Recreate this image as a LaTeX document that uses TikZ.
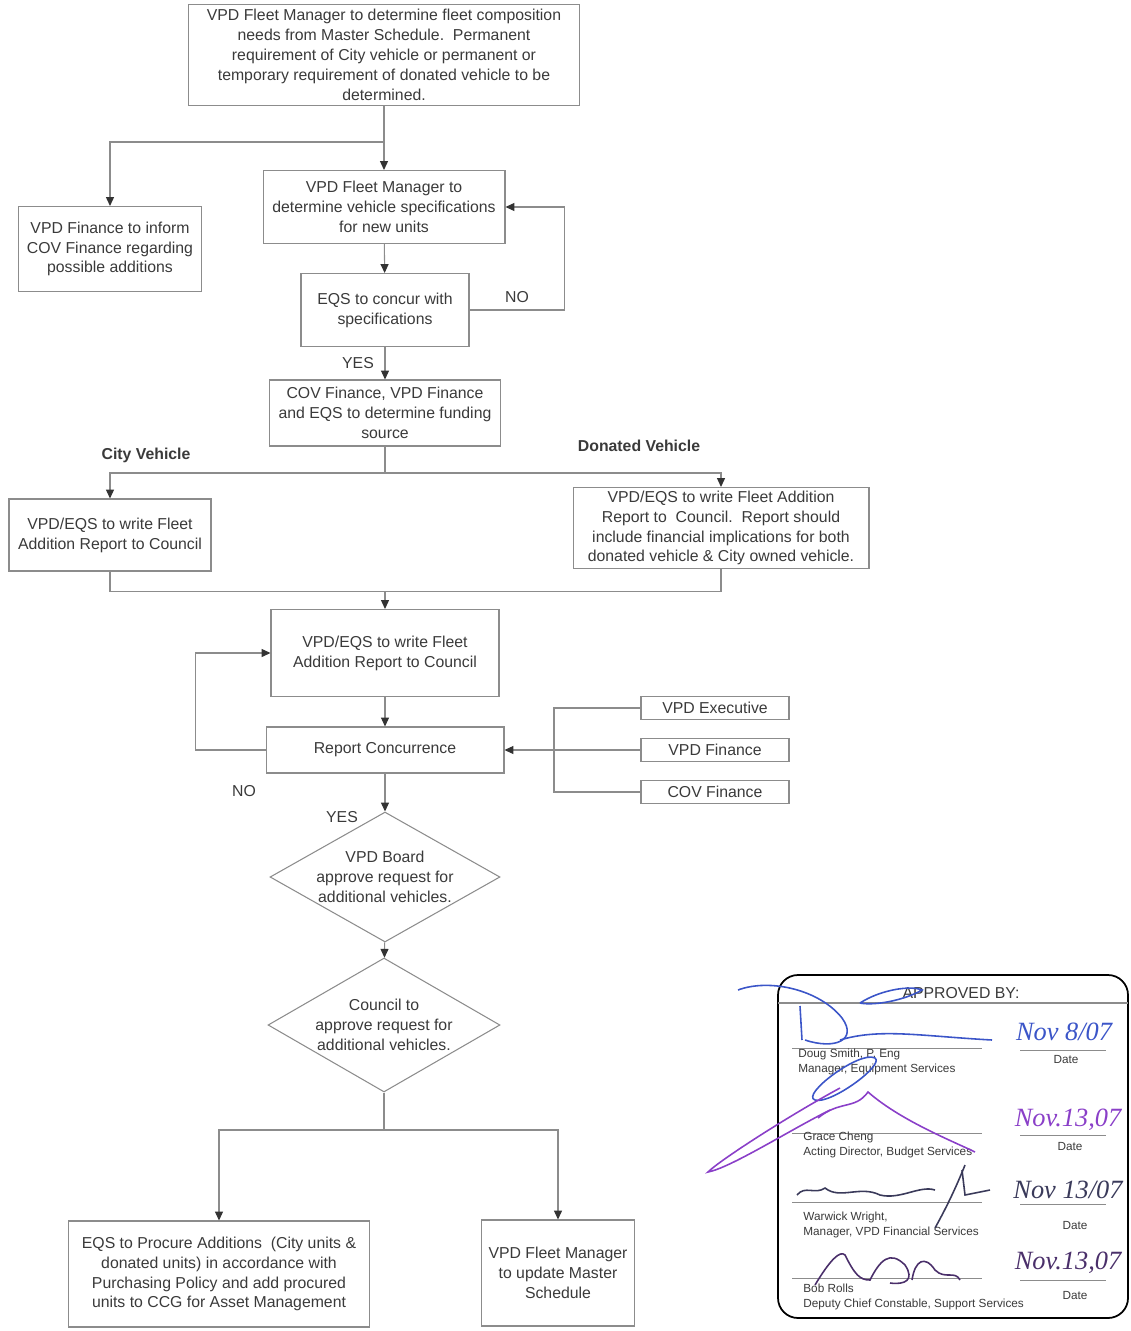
\documentclass[tikz,border=0pt]{standalone}
\usepackage{fontspec}
\setmainfont{Liberation Sans}
\newfontfamily\handfont{Liberation Serif}
\usepackage{tikz}
\usetikzlibrary{arrows.meta,positioning,shapes.geometric}
\definecolor{linegray}{HTML}{8C8C8C}
\definecolor{textgray}{HTML}{3A3A3A}
\definecolor{tipgray}{HTML}{333333}
\definecolor{sigblue}{HTML}{3B55C8}
\definecolor{sigpurple}{HTML}{8A3FC8}
\definecolor{sigdark}{HTML}{3A3A5A}
\definecolor{sigplum}{HTML}{4A2F6A}

\begin{document}
\begin{tikzpicture}[x=0.02cm,y=-0.02cm,->,>={Triangle[length=5pt,width=4.5pt,color=tipgray]},draw=linegray,semithick]
  \tikzstyle{procbox}=[draw=linegray,text=textgray,align=center,inner sep=0pt,font=\fontsize{9}{11.3}\selectfont]
  \tikzstyle{decision}=[diamond,draw=linegray,inner sep=0pt]
  \tikzstyle{lbl}=[text=textgray,font=\fontsize{9}{11}\selectfont]
  \tikzstyle{branch}=[text=textgray,font=\fontsize{9}{11}\bfseries]
  \tikzstyle{signame}=[anchor=west,text=textgray,align=left,font=\fontsize{6.7}{8.5}\selectfont]
  \tikzstyle{handdate}=[font=\handfont\itshape\fontsize{15}{15}\selectfont]
  \useasboundingbox (0,0) rectangle (1130,1331);

  % main column
  \node[procbox,minimum width=7.82cm,minimum height=2.02cm] (needs) at (384,55)
    {VPD Fleet Manager to determine fleet composition\\needs from Master Schedule.\ \ Permanent\\requirement of City vehicle or permanent or\\temporary requirement of donated vehicle to be\\determined.};
  \node[procbox,minimum width=4.84cm,minimum height=1.46cm] (specs) at (384,207)
    {VPD Fleet Manager to\\determine vehicle specifications\\for new units};
  \node[procbox,minimum width=3.66cm,minimum height=1.70cm] (inform) at (110,249)
    {VPD Finance to inform\\COV Finance regarding\\possible additions};
  \node[procbox,minimum width=3.36cm,minimum height=1.46cm] (concur) at (385,310)
    {EQS to concur with\\specifications};
  \node[procbox,minimum width=4.62cm,minimum height=1.32cm] (funding) at (385,413)
    {COV Finance, VPD Finance\\and EQS to determine funding\\source};
  \node[procbox,minimum width=4.04cm,minimum height=1.44cm] (cityrep) at (110,535)
    {VPD/EQS to write Fleet\\Addition Report to Council};
  \node[procbox,minimum width=5.92cm,minimum height=1.62cm] (donrep) at (721,528)
    {VPD/EQS to write Fleet Addition\\Report to\ \ Council.\ \ Report should\\include financial implications for both\\donated vehicle \& City owned vehicle.};
  \node[procbox,minimum width=4.56cm,minimum height=1.74cm] (report) at (385,653)
    {VPD/EQS to write Fleet\\Addition Report to Council};
  \node[procbox,minimum width=4.76cm,minimum height=0.92cm] (concurrence) at (385,750)
    {Report Concurrence};
  \node[procbox,minimum width=2.96cm,minimum height=0.46cm] (vpdexec) at (715,708) {VPD Executive};
  \node[procbox,minimum width=2.96cm,minimum height=0.46cm] (vpdfin) at (715,750) {VPD Finance};
  \node[procbox,minimum width=2.96cm,minimum height=0.46cm] (covfin) at (715,792) {COV Finance};
  \node[decision,minimum width=4.6cm,minimum height=2.6cm] (board) at (385,877) {};
  \node[procbox,draw=none] at (board) {VPD Board\\approve request for\\additional vehicles.};
  \node[decision,minimum width=4.64cm,minimum height=2.68cm] (council) at (384,1025) {};
  \node[procbox,draw=none] at (council) {Council to\\approve request for\\additional vehicles.};
  \node[procbox,minimum width=6.02cm,minimum height=2.12cm] (procure) at (219,1274)
    {EQS to Procure Additions\ \ (City units \&\\donated units) in accordance with\\Purchasing Policy and add procured\\units to CCG for Asset Management};
  \node[procbox,minimum width=3.06cm,minimum height=2.12cm] (update) at (558,1273)
    {VPD Fleet Manager\\to update Master\\Schedule};

  % split and join points
  \coordinate (split1) at (384,142);
  \coordinate (split2) at (385,473);
  \coordinate (merge) at (385,591);
  \coordinate (join) at (554,750);
  \coordinate (split3) at (384,1130);

  % connectors
  \draw (needs) -- (specs);
  \draw (split1) -| (inform.north);
  \draw (specs) -- (concur);
  \draw (concur.east) -- ++(95,0) |- (specs.east);
  \draw (concur) -- (funding);
  \draw[-] (funding.south) -- (split2);
  \draw (split2) -| (cityrep.north);
  \draw (split2) -| (donrep.north);
  \draw[-] (cityrep.south) -- ++(0,20) -| (donrep.south);
  \draw (merge) -- (report.north);
  \draw (report) -- (concurrence);
  \draw (concurrence.west) -- ++(-70,0) |- (report.west);
  \draw[-] (vpdexec.west) -| (join);
  \draw[-] (covfin.west) -| (join);
  \draw (vpdfin.west) -- (concurrence.east);
  \draw (concurrence) -- (board);
  \draw (board) -- (council);
  \draw[-] (council.south) -- (split3);
  \draw (split3) -| (procure.north);
  \draw (split3) -| (update.north);

  % branch labels
  \node[lbl] at (517,297) {NO};
  \node[lbl] at (358,363) {YES};
  \node[branch] at (146,455) {City Vehicle};
  \node[branch] at (639,446) {Donated Vehicle};
  \node[lbl] at (244,791) {NO};
  \node[lbl] at (342,817) {YES};

  % approval block
  \draw[-,draw=black,line width=1pt,rounded corners=0.4cm] (778,975) rectangle (1128,1318);
  \draw[-] (778,1003) -- (1128,1003);
  \node[text=textgray,font=\fontsize{9}{11}\selectfont] (approved) at (961,993) {APPROVED BY:};
  \foreach \ly in {1048,1133,1202,1278}{
    \draw[-,thin] (792,\ly) -- (982,\ly);
    \draw[-,thin] (1020,\ly+2) -- (1106,\ly+2);
  }
  \node[signame] (smith) at (792,1062) {Doug Smith, P. Eng\\Manager, Equipment Services};
  \node[signame] (cheng) at (797,1145) {Grace Cheng\\Acting Director, Budget Services};
  \node[signame] (wright) at (797,1225) {Warwick Wright,\\Manager, VPD Financial Services};
  \node[signame] (rolls) at (797,1297) {Bob Rolls\\Deputy Chief Constable, Support Services};
  \node[signame,anchor=center] at (1066,1059) {Date};
  \node[signame,anchor=center] at (1070,1146) {Date};
  \node[signame,anchor=center] at (1075,1225) {Date};
  \node[signame,anchor=center] at (1075,1295) {Date};
  \node[handdate,text=sigblue] at (1064,1032) {Nov 8/07};
  \node[handdate,text=sigpurple] at (1068,1120) {Nov.13,07};
  \node[handdate,text=sigdark] at (1068,1190) {Nov 13/07};
  \node[handdate,text=sigplum] at (1068,1263) {Nov.13,07};

  % signatures
  \begin{scope}[-,line width=0.9pt]
    \draw[sigblue] (738,990) .. controls (770,978) and (820,990) .. (842,1018) .. controls (858,1040) and (835,1050) .. (805,1040);
    \draw[sigblue] (800,1006) -- (802,1040);
    \draw[sigblue] (860,1003) .. controls (880,990) and (910,985) .. (922,990) .. controls (905,1000) and (875,1006) .. (860,1003);
    \draw[sigblue] (840,1040) .. controls (880,1028) and (920,1036) .. (992,1040);
    \draw[sigblue] (815,1100) .. controls (800,1095) and (860,1050) .. (875,1058) .. controls (885,1065) and (830,1105) .. (815,1100);
    \draw[sigpurple] (840,1088) .. controls (790,1115) and (720,1160) .. (708,1172) .. controls (730,1168) and (790,1130) .. (830,1110);
    \draw[sigpurple] (818,1118) .. controls (840,1100) and (855,1110) .. (868,1092) .. controls (900,1120) and (950,1140) .. (975,1152);
    \draw[sigdark] (797,1195) .. controls (805,1185) and (815,1195) .. (825,1188) .. controls (840,1200) and (860,1185) .. (880,1195) .. controls (900,1200) and (920,1185) .. (935,1190);
    \draw[sigdark] (965,1165) .. controls (955,1190) and (945,1210) .. (935,1228);
    \draw[sigdark] (962,1170) -- (965,1195) -- (990,1190);
    \draw[sigplum] (815,1285) .. controls (830,1260) and (840,1250) .. (845,1255) .. controls (855,1275) and (860,1280) .. (870,1280) .. controls (880,1260) and (890,1250) .. (905,1265) .. controls (915,1280) and (905,1285) .. (890,1283);
    \draw[sigplum] (912,1280) .. controls (915,1260) and (925,1255) .. (935,1270) .. controls (945,1280) and (955,1270) .. (960,1280);
  \end{scope}
\end{tikzpicture}
\end{document}
